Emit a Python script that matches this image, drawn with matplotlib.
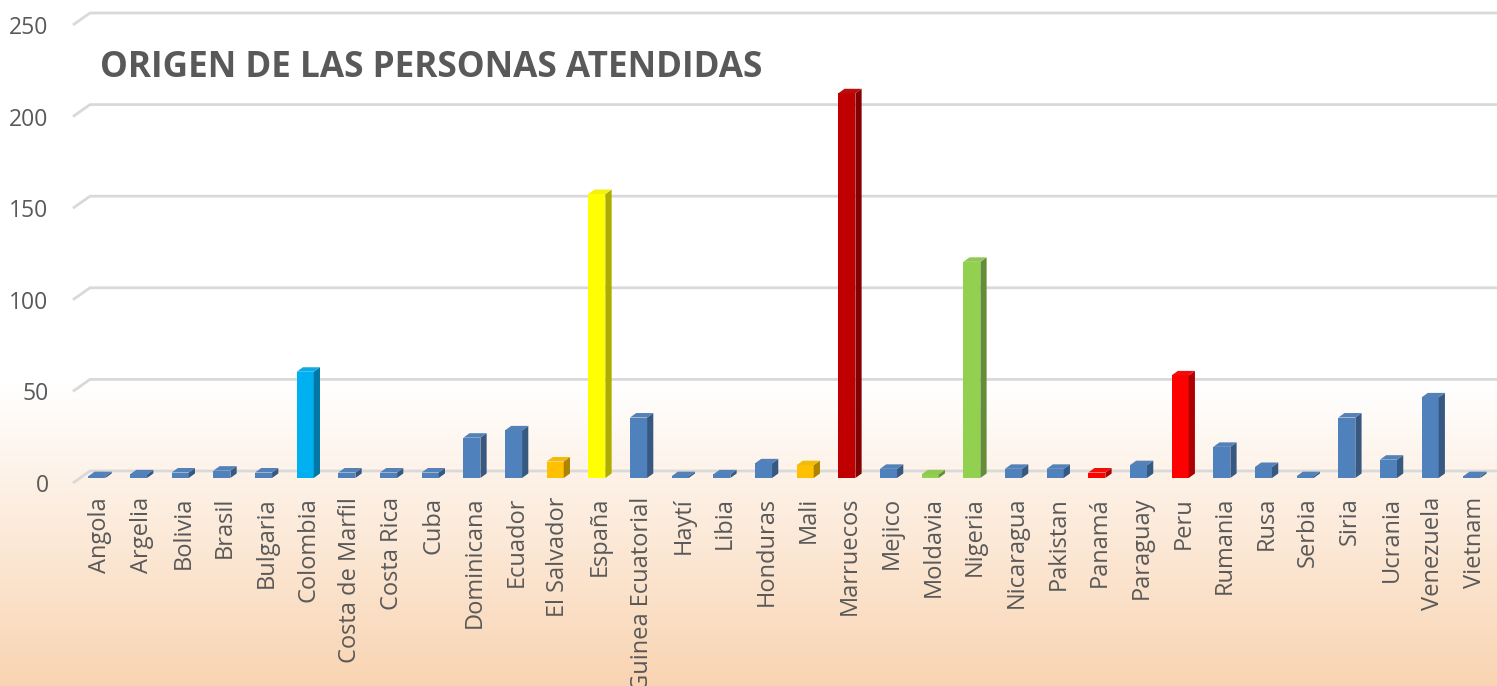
import numpy as np
import matplotlib
matplotlib.use("Agg")
import matplotlib.pyplot as plt
from matplotlib.patches import Polygon
from matplotlib.colors import to_rgb

countries = ["Angola", "Argelia", "Bolivia", "Brasil", "Bulgaria", "Colombia",
             "Costa de Marfil", "Costa Rica", "Cuba", "Dominicana", "Ecuador",
             "El Salvador", "España", "Guinea Ecuatorial", "Haytí", "Libia",
             "Honduras", "Mali", "Marruecos", "Mejico", "Moldavia", "Nigeria",
             "Nicaragua", "Pakistan", "Panamá", "Paraguay", "Peru", "Rumania",
             "Rusa", "Serbia", "Siria", "Ucrania", "Venezuela", "Vietnam"]
personas = [1, 2, 3, 4, 3, 58, 3, 3, 3, 22, 26, 9, 155, 33, 1, 2, 8, 7, 210,
            5, 2, 118, 5, 5, 3, 7, 56, 17, 6, 1, 33, 10, 44, 1]
colores = ["#4F81BD"] * len(countries)
especiales = {"Colombia": "#00B0F0", "El Salvador": "#FFC000", "España": "#FFFF00",
              "Mali": "#FFC000", "Marruecos": "#C00000", "Moldavia": "#92D050",
              "Nigeria": "#92D050", "Panamá": "#FF0000", "Peru": "#FF0000"}
for k, c in especiales.items():
    colores[countries.index(k)] = c
yticks = [0, 50, 100, 150, 200, 250]

W, H = 1497, 686
fig = plt.figure(figsize=(W / 100, H / 100), dpi=100)

# background gradient (white -> peach)
bg = fig.add_axes([0, 0, 1, 1], zorder=-10)
rows = np.linspace(0, 1, H)
t = np.clip((rows - 385 / H) / (1 - 385 / H), 0, 1)[:, None]
top = np.array([1.0, 1.0, 1.0])
bot = np.array(to_rgb("#F9D4B2"))
img = (1 - t)[:, :, None] * top + t[:, :, None] * bot
img = np.repeat(img, 2, axis=1)
bg.imshow(img, aspect="auto", extent=[0, 1, 0, 1])
bg.axis("off")

# plot area
ax_l, ax_r, ax_bot_px = 75, 1497, 490
ax = fig.add_axes([ax_l / W, (H - ax_bot_px) / H, (ax_r - ax_l) / W, ax_bot_px / H])
ax.set_facecolor("none")
pxu = 1.832
ylo = (483 - ax_bot_px) / pxu
yhi = 483 / pxu
ax.set_ylim(ylo, yhi)
ax.set_xlim(-0.6, len(countries) - 1 + 0.53)

# grid with perspective step
gdx, gdy = 0.36, 12 / pxu
x0, x1 = ax.get_xlim()
for v in yticks:
    ax.plot([x0 - 0.05, x0 + gdx, x1], [v, v + gdy, v + gdy], color="#D9D9D9",
            lw=2, zorder=1, clip_on=False, solid_capstyle="butt")

# 3d-like bars
w = 0.41
dx, dy = 0.15, 4.5 / pxu
base = 5 / pxu
for i, (v, c) in enumerate(zip(personas, colores)):
    rgb = np.array(to_rgb(c))
    side = rgb * 0.68
    topc = np.clip(rgb * 0.9 + 0.05, 0, 1)
    xl = i - (w + dx) / 2
    xr = xl + w
    y0, y1 = base, base + v
    ax.add_patch(Polygon([[xl, y0], [xr, y0], [xr, y1], [xl, y1]],
                         facecolor=rgb, edgecolor="none", zorder=3))
    ax.add_patch(Polygon([[xr, y0], [xr + dx, y0 + dy], [xr + dx, y1 + dy], [xr, y1]],
                         facecolor=side, edgecolor="none", zorder=3))
    ax.add_patch(Polygon([[xl, y1], [xr, y1], [xr + dx, y1 + dy], [xl + dx, y1 + dy]],
                         facecolor=topc, edgecolor="none", zorder=3))

for s in ax.spines.values():
    s.set_visible(False)
ax.set_yticks(yticks)
ax.set_yticklabels([str(v) for v in yticks], fontsize=16.5, color="#595959",
                   family="Open Sans")
ax.tick_params(axis="y", length=0, pad=19)
ax.set_xticks(range(len(countries)))
ax.set_xticklabels(countries, rotation=90, fontsize=17, color="#595959",
                   family="Open Sans", va="top")
ax.tick_params(axis="x", length=0, pad=5)

fig.text(100 / W, 1 - 68 / H, "ORIGEN DE LAS PERSONAS ATENDIDAS", fontsize=25.3,
         fontweight="bold", color="#595959", family="Open Sans", va="center",
         ha="left")

fig.savefig("out.png", dpi=100)
